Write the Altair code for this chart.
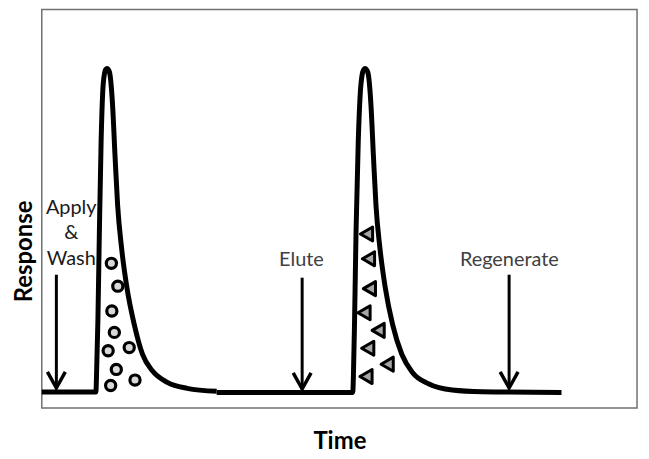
import altair as alt
import pandas as pd

# ---- data (Time and Response in arbitrary units, 0-100) ----
run1_time = [0, 9.10, 9.18, 9.43, 9.68, 9.97, 10.23, 10.52, 10.73, 10.97, 11.19, 11.44,
             11.90, 12.30, 12.74, 13.41, 14.31, 15.53, 16.91, 18.58, 21.09, 24.42, 29.38]
run1_resp = [3.99, 3.99, 7.23, 22.19, 44.64, 67.08, 79.05, 83.79, 84.91, 85.16, 84.91, 83.79,
             75.81, 63.34, 50.87, 40.07, 30.10, 20.95, 13.47, 9.30, 6.41, 4.91, 4.16]

run2_time = [29.38, 52.25, 52.34, 52.55, 52.80, 53.17, 53.51, 53.84, 54.09, 54.31, 54.54, 54.84,
             55.31, 55.71, 56.14, 56.81, 57.71, 58.93, 60.48, 62.27, 65.06, 68.95, 73.96, 87.31]
run2_resp = [3.87, 3.87, 7.23, 22.19, 44.64, 67.08, 79.05, 83.79, 84.91, 85.16, 84.91, 83.79,
             75.81, 63.34, 50.87, 40.07, 30.10, 20.95, 13.47, 8.90, 5.99, 4.49, 4.06, 3.87]

circle_time = [11.69, 12.77, 11.77, 12.19, 11.15, 14.69, 12.52, 11.57, 15.66]
circle_resp = [36.28, 30.55, 24.31, 18.95, 14.34, 15.14, 9.65, 5.61, 6.98]

tri_time = [54.56, 54.89, 55.04, 54.14, 56.51, 54.76, 58.03, 54.47]
tri_resp = [43.64, 37.41, 29.93, 23.87, 19.45, 14.96, 10.97, 7.86]

arrow_time = [2.45, 43.74, 78.51]
arrow_top = [33.42, 32.67, 33.42]
arrow_tip = [4.99, 4.74, 4.99]

step_text = ["Apply", "&", "Wash"]
step_time = [4.95, 4.95, 4.95]
step_resp = [48.63, 42.39, 35.91]

label_text = ["Elute", "Regenerate"]
label_time = [43.62, 78.55]
label_resp = [35.54, 35.66]

# ---- tables ----
trace = pd.concat([
    pd.DataFrame({"Time": run1_time, "Response": run1_resp, "run": "1"}),
    pd.DataFrame({"Time": run2_time, "Response": run2_resp, "run": "2"}),
])
circles = pd.DataFrame({"Time": circle_time, "Response": circle_resp})
tris = pd.DataFrame({"Time": tri_time, "Response": tri_resp})
arrows = pd.DataFrame({"Time": arrow_time, "Response": arrow_top, "Tip": arrow_tip})
steps = pd.DataFrame({"Time": step_time, "Response": step_resp, "label": step_text})
labels = pd.DataFrame({"Time": label_time, "Response": label_resp, "label": label_text})

xs = alt.Scale(domain=[0, 100], nice=False, zero=False)
ys = alt.Scale(domain=[0, 100], nice=False, zero=False)

x_axis = alt.Axis(title="Time", labels=False, ticks=False, domain=False, grid=False,
                  titleFont="Lato", titleFontSize=24, titleFontWeight="bold",
                  titleColor="#000000", titleY=41, titleBaseline="alphabetic")
y_axis = alt.Axis(title="Response", labels=False, ticks=False, domain=False, grid=False,
                  titleFont="Lato", titleFontSize=24, titleFontWeight="bold",
                  titleColor="#000000", titleAngle=270, titleX=-10.5, titleY=243,
                  titleAlign="center", titleBaseline="alphabetic")

X = alt.X("Time:Q", scale=xs, axis=x_axis)
Y = alt.Y("Response:Q", scale=ys, axis=y_axis)

line = alt.Chart(trace).mark_line(
    color="#000000", strokeWidth=5, interpolate="monotone", strokeJoin="round"
).encode(x=X, y=Y, detail="run:N")

circ = alt.Chart(circles).mark_point(
    shape="circle", size=105, filled=True, fill="#d9d9d9", stroke="#000000",
    strokeWidth=3.2, opacity=1
).encode(x=X, y=Y)

tri = alt.Chart(tris).mark_point(
    shape="triangle-left", size=200, filled=True, fill="#a6a6a6", stroke="#000000",
    strokeWidth=3, opacity=1, strokeJoin="round"
).encode(x=X, y=Y)

shaft = alt.Chart(arrows).mark_rule(color="#000000", strokeWidth=3).encode(
    x=X, y=Y, y2="Tip:Q"
)

head = alt.Chart(arrows).mark_point(
    shape="M-1,-1.8L0,0L1,-1.8", size=324, filled=False, stroke="#000000",
    strokeWidth=3.5, opacity=1
).encode(x=X, y=alt.Y("Tip:Q", scale=ys, axis=y_axis))

step_lbl = alt.Chart(steps).mark_text(
    font="Lato", fontSize=20, align="center", baseline="alphabetic", color="#1a1a1a"
).encode(x=X, y=Y, text="label:N")

lbl = alt.Chart(labels).mark_text(
    font="Lato", fontSize=20, align="center", baseline="alphabetic", color="#404040"
).encode(x=X, y=Y, text="label:N")

chart = alt.layer(line, circ, tri, shaft, head, step_lbl, lbl).properties(
    width=599, height=401,
    autosize=alt.AutoSizeParams(type="none"),
    padding={"left": 34, "top": 0, "right": 4, "bottom": 48},
).configure_view(stroke="#707070", strokeWidth=1.5)

chart.save("out.html", embed_options={"renderer": "svg", "actions": False})
